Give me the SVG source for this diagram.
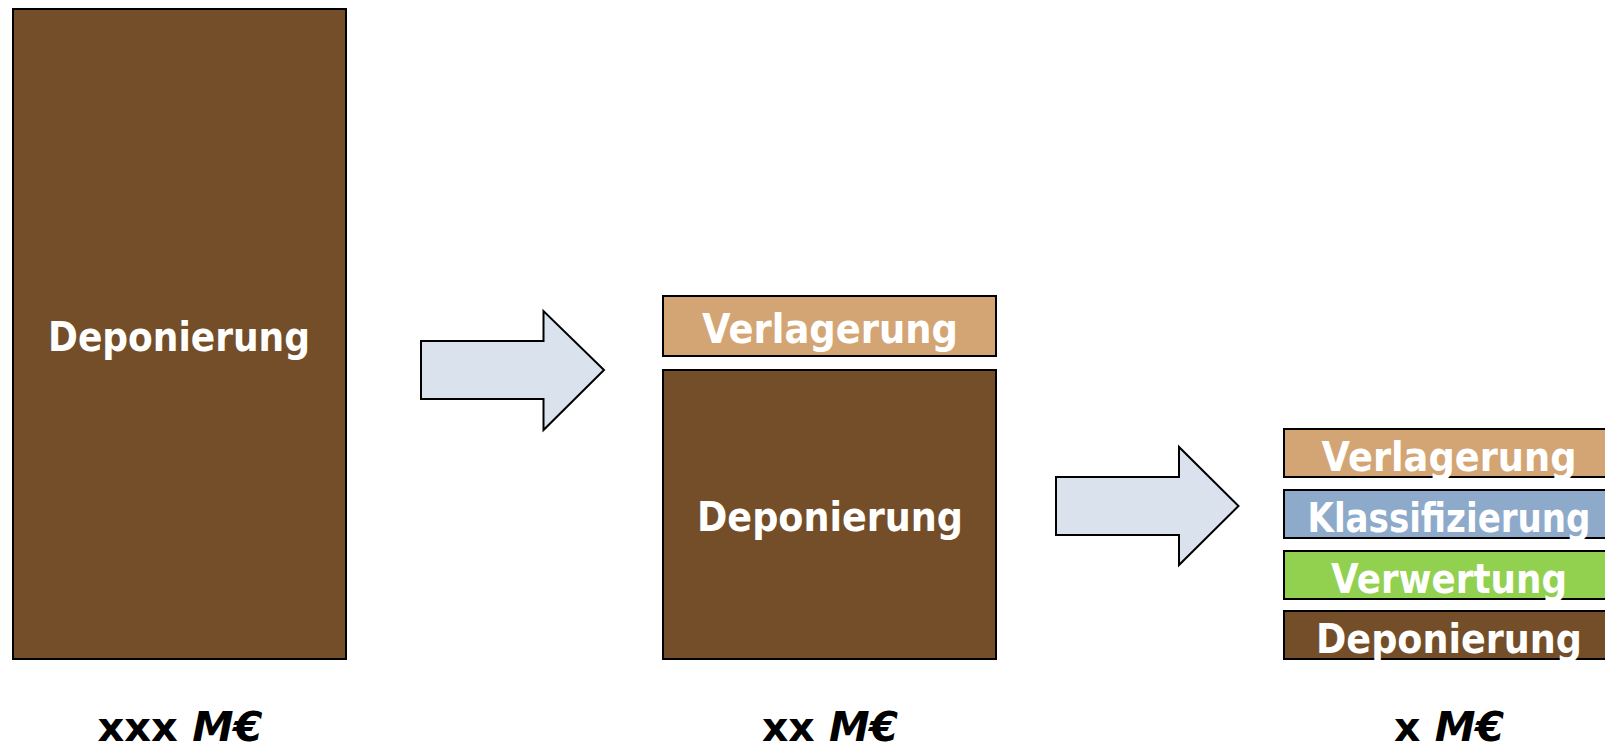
<svg xmlns="http://www.w3.org/2000/svg" width="1605" height="749" viewBox="0 0 1605 749">
<style>
.box{stroke:#000;stroke-width:2}
.brown{fill:#744E28}
.tan{fill:#D3A574}
.blue{fill:#8EAACB}
.green{fill:#92D050}
.arrow{fill:#DAE3ED;stroke:#000;stroke-width:2;stroke-linejoin:miter}
.t{font-family:"DejaVu Sans",sans-serif;font-weight:bold;font-size:40px;fill:#fff;text-anchor:middle}
.lbl{font-family:"DejaVu Sans",sans-serif;font-weight:bold;font-size:40px;fill:#000;text-anchor:middle}
</style>
<rect width="1605" height="749" fill="#fff"/>
<g id="col1">
  <g id="dep1"><rect class="box brown" x="13" y="9" width="333" height="650"/><text class="t" x="179" y="351" textLength="262" lengthAdjust="spacingAndGlyphs">Deponierung</text></g>
  <text class="lbl" x="180" y="741" textLength="165" lengthAdjust="spacingAndGlyphs">xxx <tspan font-style="italic">M€</tspan></text>
</g>
<g id="col2">
  <g id="verl2"><rect class="box tan" x="663" y="296" width="333" height="60"/><text class="t" x="830" y="343" textLength="256" lengthAdjust="spacingAndGlyphs">Verlagerung</text></g>
  <g id="dep2"><rect class="box brown" x="663" y="370" width="333" height="289"/><text class="t" x="830" y="531" textLength="266" lengthAdjust="spacingAndGlyphs">Deponierung</text></g>
  <text class="lbl" x="830" y="741" textLength="136" lengthAdjust="spacingAndGlyphs">xx <tspan font-style="italic">M€</tspan></text>
</g>
<g id="col3">
  <g id="verl3"><rect class="box tan" x="1284" y="429" width="333" height="48"/><text class="t" x="1449" y="471" textLength="255" lengthAdjust="spacingAndGlyphs">Verlagerung</text></g>
  <g id="klass3"><rect class="box blue" x="1284" y="490" width="333" height="48"/><text class="t" x="1449" y="532" textLength="283" lengthAdjust="spacingAndGlyphs">Klassifizierung</text></g>
  <g id="verw3"><rect class="box green" x="1284" y="551" width="333" height="48"/><text class="t" x="1449" y="593" textLength="236" lengthAdjust="spacingAndGlyphs">Verwertung</text></g>
  <g id="dep3"><rect class="box brown" x="1284" y="611" width="333" height="48"/><text class="t" x="1449" y="653" textLength="266" lengthAdjust="spacingAndGlyphs">Deponierung</text></g>
  <text class="lbl" x="1449" y="741" textLength="110" lengthAdjust="spacingAndGlyphs">x <tspan font-style="italic">M€</tspan></text>
</g>
<g id="connectors">
  <polygon class="arrow" points="421,341 543.5,341 543.5,311 604,370 543.5,430 543.5,399 421,399"/>
  <polygon class="arrow" points="1056,477 1179,477 1179,447 1238.5,506 1179,565 1179,535 1056,535"/>
</g>
</svg>
